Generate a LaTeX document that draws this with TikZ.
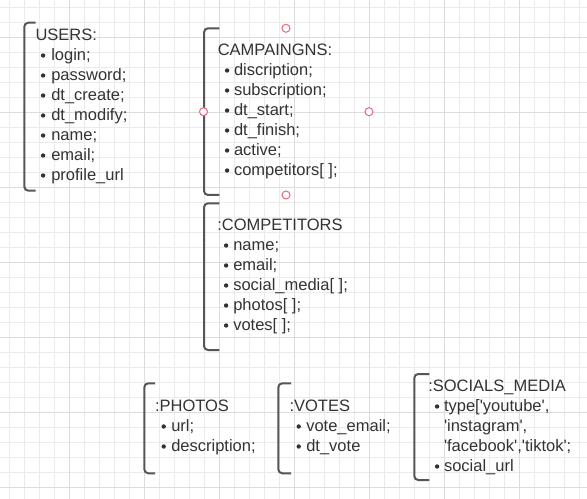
\documentclass[tikz,border=0pt]{standalone}
\usepackage{fontspec}
\setmainfont{Liberation Sans}
\definecolor{gridminor}{HTML}{EBEBEB}
\definecolor{gridmajor}{HTML}{DCDCDC}
\definecolor{brkcol}{HTML}{555555}
\definecolor{txtcol}{HTML}{333333}
\definecolor{handle}{HTML}{E8667F}
\tikzset{
  minorline/.style={draw=gridminor, line width=0.8bp},
  majorline/.style={draw=gridmajor, line width=0.9bp},
  brk/.style={draw=brkcol, line width=2bp, rounded corners=4bp},
  txt/.style={anchor=base west, inner sep=0pt, outer sep=0pt, text=txtcol, font=\fontsize{16.5bp}{20bp}\selectfont},
  bul/.style={fill=txtcol, draw=none},
  hdl/.style={draw=handle, fill=white, line width=1bp}
}
\newcommand{\itemdot}[2]{\fill[bul] (#1+0.4,#2-5.2) circle (2.2bp);}
\begin{document}
\begin{tikzpicture}[x=1bp,y=-1bp]
\useasboundingbox (0,0) rectangle (587,499);
\fill[white] (0,0) rectangle (587,499);
% grid
\foreach \i in {0,...,38} \draw[minorline] ({9+15*\i},0) -- ({9+15*\i},499);
\foreach \j in {0,...,32} \draw[minorline] (0,{7+15*\j}) -- (587,{7+15*\j});
\foreach \i in {0,...,6} \draw[majorline] ({69+75*\i},0) -- ({69+75*\i},499);
\foreach \j in {0,...,6} \draw[majorline] (0,{37+75*\j}) -- (587,{37+75*\j});

% brackets
\draw[brk] (35.7,22.7) -- (24.3,22.7) -- (24.3,190.7) -- (35.7,190.7);
\draw[brk] (219.3,28.3) -- (204,28.3) -- (204,195) -- (219.3,195);
\draw[brk] (219.3,203.3) -- (204,203.3) -- (204,350) -- (219.3,350);
\draw[brk] (155,383.3) -- (144.3,383.3) -- (144.3,473.3) -- (155,473.3);
\draw[brk] (291,383.3) -- (278.3,383.3) -- (278.3,473.3) -- (291,473.3);
\draw[brk] (429.3,374) -- (414.3,374) -- (414.3,480) -- (429.3,480);

% USERS
\node[txt] (u0) at (35.5,40.7) {USERS:};
\foreach \t [count=\k] in {login;,password;,dt\_create;,dt\_modify;,name;,email;,profile\_url}{
  \itemdot{42.7}{40.7+20*\k}
  \node[txt] (u\k) at (51.3,40.7+20*\k) {\t};
}

% CAMPAINGNS
\node[txt] (c0) at (217.8,55.7) {CAMPAINGNS:};
\foreach \t [count=\k] in {discription;,subscription;,dt\_start;,dt\_finish;,active;,competitors[ ];}{
  \itemdot{226.7}{55.7+20*\k}
  \node[txt] (c\k) at (234,55.7+20*\k) {\t};
}
\node[hdl, circle, minimum size=8bp, inner sep=0pt] (h1) at (286,28.3) {};
\node[hdl, circle, minimum size=8bp, inner sep=0pt] (h2) at (286,195) {};
\node[hdl, circle, minimum size=8bp, inner sep=0pt] (h3) at (203.5,111.7) {};
\node[hdl, circle, minimum size=8bp, inner sep=0pt] (h4) at (369,111.7) {};

% COMPETITORS
\node[txt] (p0) at (217.3,230.7) {:COMPETITORS};
\foreach \t [count=\k] in {name;,email;,social\_media[ ];,photos[ ];,votes[ ];}{
  \itemdot{225.7}{230.7+20*\k}
  \node[txt] (p\k) at (233.3,230.7+20*\k) {\t};
}

% PHOTOS
\node[txt] (f0) at (155,411.7) {:PHOTOS};
\foreach \t [count=\k] in {url;,description;}{
  \itemdot{163.3}{411.7+20*\k}
  \node[txt] (f\k) at (171.3,411.7+20*\k) {\t};
}

% VOTES
\node[txt] (v0) at (289.5,411.7) {:VOTES};
\foreach \t [count=\k] in {vote\_email;,dt\_vote}{
  \itemdot{298.3}{411.7+20*\k}
  \node[txt] (v\k) at (306.3,411.7+20*\k) {\t};
}

% SOCIALS_MEDIA
\node[txt] (s0) at (428.3,391.7) {:SOCIALS\_MEDIA};
\itemdot{436.7}{411.7}
\node[txt] (s1) at (444,411.7) {type[\textquotesingle youtube\textquotesingle,};
\node[txt] (s2) at (444,431.7) {\textquotesingle instagram\textquotesingle,};
\node[txt] (s3) at (444,451.7) {\textquotesingle facebook\textquotesingle,\textquotesingle tiktok\textquotesingle;};
\itemdot{436.7}{471.7}
\node[txt] (s4) at (444,471.7) {social\_url};
\end{tikzpicture}
\end{document}
